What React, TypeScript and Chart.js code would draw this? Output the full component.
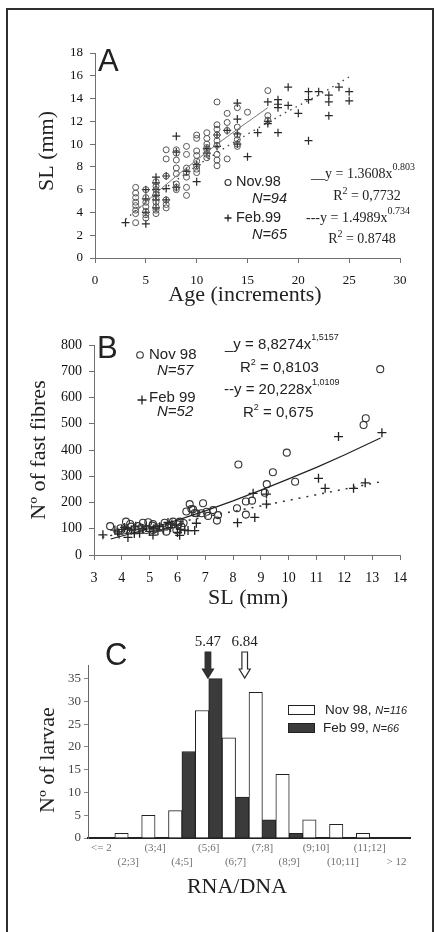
import React, { useEffect, useRef } from "react";
import { Chart, registerables } from "chart.js";
Chart.register(...registerables);

const SERIF = '"Liberation Serif", "Times New Roman", serif';
const SANS = '"Liberation Sans", Arial, sans-serif';

// ---------- Panel A : SL vs Age ----------
const ageNovA = [4,4,4,4,4,4,4,4, 5,5,5,5,5,5,5, 6,6,6,6,6,6,6,6,6, 7,7,7,7,7,7, 8,8,8,8,8,8,8,8, 9,9,9,9,9,9,9, 10,10,10,10,10,10,10,10, 11,11,11,11,11,11,11, 12,12,12,12,12,12,12,12,12, 13,13,13,13, 14,14,14,14,14,14, 15, 17,17,17];
const slNovA = [6.2,5.7,5.3,4.9,4.6,4.2,3.9,3.1, 6.0,5.3,4.9,4.5,4.1,3.8,3.5, 6.7,6.3,6.0,5.6,5.3,4.9,4.5,4.2,3.9, 9.5,8.7,7.2,5.1,4.7,4.4, 9.5,9.2,8.6,7.9,7.4,6.5,6.2,6.0, 9.8,9.1,7.9,7.5,7.1,6.2,5.5, 10.8,10.5,9.4,8.5,8.1,7.8,7.5,9.0, 11.0,10.5,10.0,9.5,9.1,8.8,9.7, 13.7,11.7,11.3,10.8,9.9,9.1,8.6,8.1,10.3, 12.7,11.9,11.2,8.7, 13.2,11.5,10.8,10.4,10.0,9.8, 12.8, 14.7,12.5,12.1];
const ageFebA = [3, 5,5,5,5, 6,6,6,6,6,6, 7,7,7, 8,8,8, 9, 10,10, 11,11, 12,12, 13, 14,14,14,14, 15, 16, 17,17,17, 18,18,18,18, 19,19, 20, 21,21,21, 22, 23,23,23, 24, 25,25];
const slFebA = [3.1, 6.0,5.2,4.0,3.0, 7.1,6.6,6.0,5.5,5.1,4.4, 7.2,6.1,5.1, 10.7,9.3,6.2, 7.6, 8.2,6.7, 9.6,9.2, 10.8,9.8, 11.2, 13.6,12.2,10.9,10.0, 8.9, 11.0, 13.7,12.0,11.8, 13.9,13.5,13.2,11.0, 15.0,13.4, 12.7, 14.6,13.9,10.3, 14.6, 14.3,13.7,12.5, 15.0, 14.6,13.8];
const ageNovFitA = [4, 6, 8, 10, 12, 14, 17];
const slNovFitA = [4.1, 5.7, 7.2, 8.6, 10.0, 11.3, 13.2];
const ageFebFitA = [3, 5, 7, 10, 13, 16, 19, 22, 25];
const slFebFitA = [3.4, 4.9, 6.2, 8.1, 9.8, 11.4, 12.9, 14.3, 15.9];

// ---------- Panel B : fast fibres vs SL ----------
const slNovB = [3.58,3.95,4.15,4.16,4.3,4.34,4.52,4.58,4.7,4.76,4.88,4.95,5.1,5.12,5.12,5.2,5.35,5.54,5.6,5.7,5.84,5.96,6.02,6.08,6.14,6.22,6.32,6.44,6.5,6.56,6.62,6.68,6.86,6.92,7.05,7.1,7.28,7.42,7.46,8.19,8.14,8.46,8.46,8.68,9.14,9.21,9.43,9.93,10.23,12.69,12.77,13.29];
const nNovB = [110,102,127,95,118,108,95,110,104,123,95,125,112,118,95,100,106,123,89,112,127,95,116,127,108,122,166,194,175,174,160,159,159,197,165,149,171,131,152,345,178,204,154,207,237,270,315,390,279,495,521,708];
const slFebB = [3.32,3.75,3.85,3.9,4.0,4.1,4.2,4.22,4.34,4.45,4.5,4.64,4.75,4.88,5.0,5.12,5.15,5.3,5.36,5.5,5.66,5.75,5.8,5.96,6.0,6.08,6.12,6.26,6.38,6.62,6.68,8.16,8.72,8.78,9.2,9.2,11.07,11.31,11.79,12.33,12.75,13.35];
const nFebB = [77,95,88,80,98,105,100,67,95,82,110,83,100,108,90,76,100,92,108,96,124,104,118,114,86,75,98,95,93,93,121,123,235,143,194,232,292,254,451,254,275,466];
const slNovFitB = [3.6, 5, 6, 7, 8, 9, 10, 11, 12, 13.3];
const nNovFitB = [61, 101, 133, 168, 206, 247, 290, 334, 381, 446];
const slFebFitB = [3.3, 6, 9, 12, 13.4];
const nFebFitB = [68, 124, 187, 251, 281];

// ---------- Panel C : RNA/DNA histogram ----------
const binsC = ["<= 2", "(2;3]", "(3;4]", "(4;5]", "(5;6]", "(6;7]", "(7;8]", "(8;9]", "(9;10]", "(10;11]", "(11;12]", "> 12"];
const novC = [0, 1, 5, 6, 28, 22, 32, 14, 4, 3, 1, 0];
const febC = [0, 0, 0, 19, 35, 9, 4, 1, 0, 0, 0, 0];
const meanFebC = 5.47;
const meanNovC = 6.84;

const zip = (xs: number[], ys: number[]) => xs.map((x, i) => ({ x, y: ys[i] }));

type Part = { t: string; sup?: boolean; italic?: boolean };

function drawParts(ctx: CanvasRenderingContext2D, parts: Part[], x: number, y: number, size: number, family: string, align: string, color = "#222", supScale = 0.68, supDy = -7) {
  ctx.save();
  const fontFor = (p: Part) => `${p.italic ? "italic " : ""}${p.sup ? Math.round(size * supScale) : size}px ${family}`;
  const widths = parts.map((p) => { ctx.font = fontFor(p); return ctx.measureText(p.t).width; });
  const total = widths.reduce((a, b) => a + b, 0);
  let cx = align === "center" ? x - total / 2 : align === "right" ? x - total : x;
  ctx.textAlign = "left";
  ctx.textBaseline = "middle";
  ctx.fillStyle = color;
  parts.forEach((p, i) => {
    ctx.font = fontFor(p);
    ctx.fillText(p.t, cx, p.sup ? y + supDy : y);
    cx += widths[i];
  });
  ctx.restore();
}

function drawText(ctx: CanvasRenderingContext2D, s: string, x: number, y: number, font: string, align: CanvasTextAlign = "left", baseline: CanvasTextBaseline = "middle", color = "#222") {
  ctx.save();
  ctx.font = font;
  ctx.fillStyle = color;
  ctx.textAlign = align;
  ctx.textBaseline = baseline;
  ctx.fillText(s, x, y);
  ctx.restore();
}

function drawVertical(ctx: CanvasRenderingContext2D, s: string, x: number, y: number, font: string, color = "#222") {
  ctx.save();
  ctx.translate(x, y);
  ctx.rotate(-Math.PI / 2);
  ctx.font = font;
  ctx.fillStyle = color;
  ctx.textAlign = "center";
  ctx.textBaseline = "middle";
  ctx.fillText(s, 0, 0);
  ctx.restore();
}

function circleMark(ctx: CanvasRenderingContext2D, x: number, y: number, r: number, color = "#333") {
  ctx.save();
  ctx.strokeStyle = color;
  ctx.lineWidth = 1.1;
  ctx.beginPath();
  ctx.arc(x, y, r, 0, Math.PI * 2);
  ctx.stroke();
  ctx.restore();
}

function plusMark(ctx: CanvasRenderingContext2D, x: number, y: number, r: number, color = "#222") {
  ctx.save();
  ctx.strokeStyle = color;
  ctx.lineWidth = 1.3;
  ctx.beginPath();
  ctx.moveTo(x - r, y); ctx.lineTo(x + r, y);
  ctx.moveTo(x, y - r); ctx.lineTo(x, y + r);
  ctx.stroke();
  ctx.restore();
}

function arrow(ctx: CanvasRenderingContext2D, x: number, yTop: number, yNeck: number, yTip: number, sh: number, hh: number, fill: string) {
  ctx.save();
  ctx.beginPath();
  ctx.moveTo(x - sh, yTop);
  ctx.lineTo(x + sh, yTop);
  ctx.lineTo(x + sh, yNeck);
  ctx.lineTo(x + hh, yNeck);
  ctx.lineTo(x, yTip);
  ctx.lineTo(x - hh, yNeck);
  ctx.lineTo(x - sh, yNeck);
  ctx.closePath();
  ctx.fillStyle = fill;
  ctx.fill();
  ctx.strokeStyle = "#2a2a2a";
  ctx.lineWidth = 1.2;
  ctx.stroke();
  ctx.restore();
}

const annA = {
  id: "annA",
  afterDraw(chart: any) {
    const ctx = chart.ctx as CanvasRenderingContext2D;
    drawText(ctx, "A", 98, 71, `31px ${SANS}`, "left", "alphabetic", "#222");
    circleMark(ctx, 228, 182.5, 3);
    drawText(ctx, "Nov.98", 236, 182, `14.5px ${SANS}`);
    drawText(ctx, "N=94", 287, 199, `italic 14.5px ${SANS}`, "right");
    plusMark(ctx, 228, 218, 3.5);
    drawText(ctx, "Feb.99", 236, 218, `14.5px ${SANS}`);
    drawText(ctx, "N=65", 287, 235, `italic 14.5px ${SANS}`, "right");
    drawParts(ctx, [{ t: "__y = 1.3608x" }, { t: "0.803", sup: true }], 311, 174, 14, SERIF, "left", "#222", 0.7, -7);
    drawParts(ctx, [{ t: "R" }, { t: "2", sup: true }, { t: " = 0,7732" }], 367, 196, 14, SERIF, "center", "#222", 0.7, -5);
    drawParts(ctx, [{ t: "---y = 1.4989x" }, { t: "0.734", sup: true }], 306, 218, 14, SERIF, "left", "#222", 0.7, -7);
    drawParts(ctx, [{ t: "R" }, { t: "2", sup: true }, { t: " = 0.8748" }], 362, 239, 14, SERIF, "center", "#222", 0.7, -5);
    drawVertical(ctx, "SL (mm)", 47, 151, `22px ${SERIF}`);
    drawText(ctx, "Age (increments)", 245, 295, `22px ${SERIF}`, "center");
  },
};

const annB = {
  id: "annB",
  afterDraw(chart: any) {
    const ctx = chart.ctx as CanvasRenderingContext2D;
    drawText(ctx, "B", 97, 48, `31px ${SANS}`, "left", "alphabetic", "#222");
    circleMark(ctx, 140, 45, 3.3);
    drawText(ctx, "Nov 98", 149, 45, `15px ${SANS}`);
    drawText(ctx, "N=57", 157, 61, `italic 15px ${SANS}`);
    plusMark(ctx, 142, 90, 4.5);
    drawText(ctx, "Feb 99", 149, 88, `15px ${SANS}`);
    drawText(ctx, "N=52", 157, 102, `italic 15px ${SANS}`);
    drawParts(ctx, [{ t: "_y = 8,8274x" }, { t: "1,5157", sup: true }], 225, 35, 15, SANS, "left", "#222", 0.62, -7);
    drawParts(ctx, [{ t: "R" }, { t: "2", sup: true }, { t: " = 0,8103" }], 240, 58, 15, SANS, "left", "#222", 0.62, -5);
    drawParts(ctx, [{ t: "--y = 20,228x" }, { t: "1,0109", sup: true }], 224, 80, 15, SANS, "left", "#222", 0.62, -7);
    drawParts(ctx, [{ t: "R" }, { t: "2", sup: true }, { t: " = 0,675" }], 243, 103, 15, SANS, "left", "#222", 0.62, -5);
    drawVertical(ctx, "Nº of fast fibres", 39, 140, `22px ${SERIF}`);
    drawText(ctx, "SL (mm)", 248, 288, `22px ${SERIF}`, "center");
  },
};

const annC = {
  id: "annC",
  afterDraw(chart: any) {
    const ctx = chart.ctx as CanvasRenderingContext2D;
    const xs = chart.scales.x;
    // category i covers (i+1 ; i+2], its centre sits at RNA/DNA = i + 1.5
    const xFeb = xs.getPixelForValue(meanFebC - 1.5);
    const xNov = xs.getPixelForValue(meanNovC - 1.5);
    drawText(ctx, "C", 105, 50, `31px ${SANS}`, "left", "alphabetic", "#222");
    drawText(ctx, meanFebC.toFixed(2), xFeb, 27, `15px ${SERIF}`, "center");
    drawText(ctx, meanNovC.toFixed(2), xNov, 27, `15px ${SERIF}`, "center");
    arrow(ctx, xFeb, 37, 54, 63, 2.8, 5.5, "#333");
    arrow(ctx, xNov, 37, 54, 63, 2.8, 5.5, "#fff");
    ctx.save();
    ctx.strokeStyle = "#222";
    ctx.lineWidth = 1;
    ctx.fillStyle = "#fff";
    ctx.fillRect(288.5, 90.5, 26, 9);
    ctx.strokeRect(288.5, 90.5, 26, 9);
    ctx.fillStyle = "#3b3b3b";
    ctx.fillRect(288.5, 108.5, 26, 9);
    ctx.strokeRect(288.5, 108.5, 26, 9);
    ctx.restore();
    drawParts(ctx, [{ t: "Nov 98, " }, { t: "N=116", italic: true, sup: true }], 325, 95, 13.5, SANS, "left", "#222", 0.82, 0.5);
    drawParts(ctx, [{ t: "Feb 99, " }, { t: "N=66", italic: true, sup: true }], 323, 113, 13.5, SANS, "left", "#222", 0.82, 0.5);
    drawVertical(ctx, "Nº of larvae", 48, 145, `22px ${SERIF}`);
    drawText(ctx, "RNA/DNA", 237, 272, `22px ${SERIF}`, "center");
  },
};

const axisGrey = "#707070";

function cfgA(): any {
  return {
    type: "scatter",
    data: {
      datasets: [
        { data: zip(ageNovFitA, slNovFitA), showLine: true, pointRadius: 0, borderColor: "#7a7a7a", borderWidth: 1 },
        { data: zip(ageFebFitA, slFebFitA), showLine: true, pointRadius: 0, borderColor: "#444", borderWidth: 1.4, borderDash: [1.5, 4.5] },
        { data: zip(ageNovA, slNovA), pointStyle: "circle", pointRadius: 3, pointBorderColor: "#555", pointBackgroundColor: "rgba(255,255,255,0)", pointBorderWidth: 1 },
        { data: zip(ageFebA, slFebA), pointStyle: "cross", pointRadius: 4, pointBorderColor: "#2a2a2a", pointBorderWidth: 1.2 },
      ],
    },
    options: {
      animation: false,
      responsive: false,
      devicePixelRatio: 1,
      layout: { padding: { top: 53, right: 35, bottom: 0, left: 0 } },
      plugins: { legend: { display: false }, tooltip: { enabled: false } },
      scales: {
        x: {
          type: "linear", min: 0, max: 30,
          ticks: { stepSize: 5, font: { family: SERIF, size: 13 }, color: "#111", padding: 10 },
          grid: { drawOnChartArea: false, tickLength: 5, color: axisGrey },
          border: { color: axisGrey },
          afterFit: (s: any) => { s.height = 52; },
        },
        y: {
          type: "linear", min: 0, max: 18,
          ticks: { stepSize: 2, font: { family: SERIF, size: 13 }, color: "#111", padding: 7 },
          grid: { drawOnChartArea: false, tickLength: 5, color: axisGrey },
          border: { color: axisGrey },
          afterFit: (s: any) => { s.width = 95; },
        },
      },
    },
    plugins: [annA],
  };
}

function cfgB(): any {
  return {
    type: "scatter",
    data: {
      datasets: [
        { data: zip(slNovFitB, nNovFitB), showLine: true, pointRadius: 0, borderColor: "#222", borderWidth: 1.2 },
        { data: zip(slFebFitB, nFebFitB), showLine: true, pointRadius: 0, borderColor: "#333", borderWidth: 1.5, borderDash: [2, 6] },
        { data: zip(slNovB, nNovB), pointStyle: "circle", pointRadius: 3.5, pointBorderColor: "#333", pointBackgroundColor: "rgba(255,255,255,0)", pointBorderWidth: 1.1 },
        { data: zip(slFebB, nFebB), pointStyle: "cross", pointRadius: 4.5, pointBorderColor: "#222", pointBorderWidth: 1.3 },
      ],
    },
    options: {
      animation: false,
      responsive: false,
      devicePixelRatio: 1,
      layout: { padding: { top: 35, right: 35, bottom: 0, left: 0 } },
      plugins: { legend: { display: false }, tooltip: { enabled: false } },
      scales: {
        x: {
          type: "linear", min: 3, max: 14,
          ticks: { stepSize: 1, font: { family: SERIF, size: 14 }, color: "#111", padding: 10 },
          grid: { drawOnChartArea: false, tickLength: 5, color: axisGrey },
          border: { color: axisGrey },
          afterFit: (s: any) => { s.height = 60; },
        },
        y: {
          type: "linear", min: 0, max: 800,
          ticks: { stepSize: 100, font: { family: SERIF, size: 14 }, color: "#111", padding: 7 },
          grid: { drawOnChartArea: false, tickLength: 5, color: axisGrey },
          border: { color: axisGrey },
          afterFit: (s: any) => { s.width = 94; },
        },
      },
    },
    plugins: [annB],
  };
}

function cfgC(): any {
  return {
    type: "bar",
    data: {
      labels: binsC,
      datasets: [
        { data: novC, backgroundColor: "#ffffff", borderColor: "#222", borderWidth: 1, barPercentage: 1, categoryPercentage: 1 },
        { data: febC, backgroundColor: "#3b3b3b", borderColor: "#222", borderWidth: 1, barPercentage: 1, categoryPercentage: 1 },
      ],
    },
    options: {
      animation: false,
      responsive: false,
      devicePixelRatio: 1,
      layout: { padding: { top: 50, right: 25, bottom: 0, left: 0 } },
      plugins: { legend: { display: false }, tooltip: { enabled: false } },
      scales: {
        x: {
          type: "category",
          grid: { display: false, drawTicks: false },
          border: { display: true, color: "#222", width: 2 },
          ticks: {
            autoSkip: false, maxRotation: 0, minRotation: 0, padding: 4,
            font: { family: SERIF, size: 11, lineHeight: 1.2 }, color: "#707070",
            callback: (_v: any, i: number) => (i % 2 === 0 ? [binsC[i], ""] : ["", binsC[i]]),
          },
          afterFit: (s: any) => { s.height = 94; },
        },
        y: {
          type: "linear", min: 0, max: 38,
          ticks: { stepSize: 5, includeBounds: false, font: { family: SERIF, size: 13 }, color: "#444", padding: 3 },
          grid: { drawOnChartArea: false, tickLength: 4, color: "#888" },
          border: { color: "#666" },
          afterFit: (s: any) => { s.width = 88; },
        },
      },
    },
    plugins: [annC],
  };
}

export default function App() {
  const refA = useRef<HTMLCanvasElement>(null);
  const refB = useRef<HTMLCanvasElement>(null);
  const refC = useRef<HTMLCanvasElement>(null);

  useEffect(() => {
    const charts = [
      new Chart(refA.current as HTMLCanvasElement, cfgA()),
      new Chart(refB.current as HTMLCanvasElement, cfgB()),
      new Chart(refC.current as HTMLCanvasElement, cfgC()),
    ];
    return () => charts.forEach((c) => c.destroy());
  }, []);

  const canvasStyle = (top: number): React.CSSProperties => ({ position: "absolute", left: 0, top, display: "block" });

  return (
    <div style={{ position: "absolute", left: 0, top: 0, width: 435, height: 932, overflow: "hidden", background: "#fff" }}>
      <div style={{ position: "absolute", left: 6, top: 8, width: 428, height: 980, border: "2px solid #2e2e2e", boxSizing: "border-box" }} />
      <canvas ref={refA} width={435} height={310} style={canvasStyle(0)} />
      <canvas ref={refB} width={435} height={305} style={canvasStyle(310)} />
      <canvas ref={refC} width={435} height={317} style={canvasStyle(615)} />
    </div>
  );
}
